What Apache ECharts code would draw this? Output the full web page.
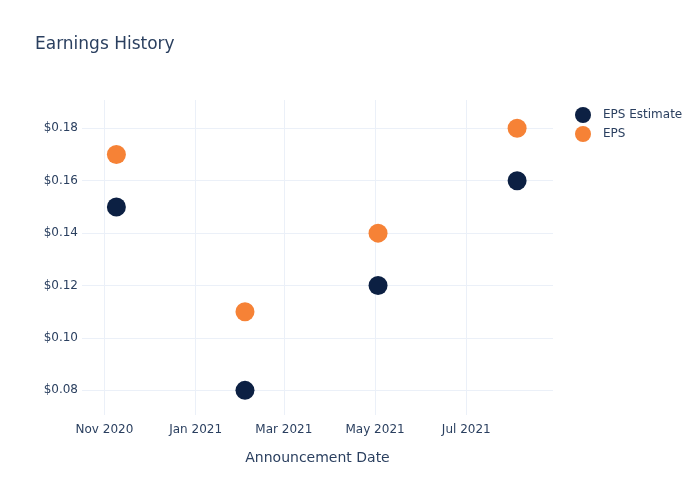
<!DOCTYPE html>
<html><head><meta charset="utf-8">
<script src="https://cdn.jsdelivr.net/npm/echarts@6/dist/echarts.min.js"></script>
<style>html,body{margin:0;padding:0;background:#fff}#c{width:700px;height:500px}</style>
</head><body><div id="c"></div>
<script>
const dates = ['2020-11-09', '2021-02-03', '2021-05-03', '2021-08-04'];
const epsEstimate = [0.15, 0.08, 0.12, 0.16];
const eps = [0.17, 0.11, 0.14, 0.18];
const yTicks = [0.08, 0.10, 0.12, 0.14, 0.16, 0.18];
const xTicks = ['2020-11-01', '2021-01-01', '2021-03-01', '2021-05-01', '2021-07-01'];
const months = ['Jan','Feb','Mar','Apr','May','Jun','Jul','Aug','Sep','Oct','Nov','Dec'];

const ts = s => { const [y,m,d] = s.split('-').map(Number); return Date.UTC(y, m-1, d); };
const txt = '#2a3f5f';
const font = 'DejaVu Sans, sans-serif';
const chart = echarts.init(document.getElementById('c'));
chart.setOption({
  animation: false,
  title: { text: 'Earnings History', left: 35, top: 36, padding: 0, textStyle: { fontFamily: font, fontSize: 17, fontWeight: 'normal', color: txt } },
  legend: {
    orient: 'vertical', left: 575, top: 107, padding: 0, itemGap: 3,
    itemWidth: 16, itemHeight: 16, icon: 'circle',
    textStyle: { fontFamily: font, fontSize: 12, color: txt, padding: [0, 0, 0, 7] },
    data: ['EPS Estimate', 'EPS']
  },
  grid: { left: 82, right: 147, top: 100, bottom: 85, containLabel: false },
  xAxis: {
    type: 'value',
    min: ts('2020-10-17'), max: ts('2021-08-28'),
    name: 'Announcement Date', nameLocation: 'middle', nameGap: 36,
    nameTextStyle: { fontFamily: font, fontSize: 14, color: txt },
    axisLine: { show: false }, axisTick: { show: false, customValues: xTicks.map(ts) },
    axisLabel: {
      customValues: xTicks.map(ts), margin: 9,
      fontFamily: font, fontSize: 12, color: txt,
      formatter: v => { const d = new Date(v); return months[d.getUTCMonth()] + ' ' + d.getUTCFullYear(); }
    },
    splitLine: { show: true, lineStyle: { color: '#ebf0f8', width: 1 } }
  },
  yAxis: {
    type: 'value', min: 0.0706, max: 0.1908,
    axisLine: { show: false }, axisTick: { show: false, customValues: yTicks },
    axisLabel: {
      customValues: yTicks, margin: 4,
      fontFamily: font, fontSize: 12, color: txt,
      formatter: v => '$' + v.toFixed(2)
    },
    splitLine: { show: true, lineStyle: { color: '#ebf0f8', width: 1 } }
  },
  series: [
    { name: 'EPS Estimate', type: 'scatter', symbolSize: 19, itemStyle: { color: '#0c2043', opacity: 1 },
      data: dates.map((d, i) => [ts(d), epsEstimate[i]]) },
    { name: 'EPS', type: 'scatter', symbolSize: 19, itemStyle: { color: '#f68236', opacity: 1 },
      data: dates.map((d, i) => [ts(d), eps[i]]) }
  ]
});
</script></body></html>
